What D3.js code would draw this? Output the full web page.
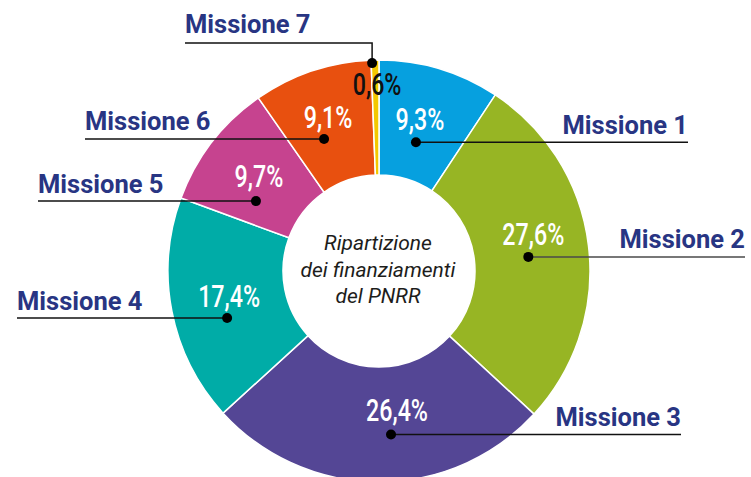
<!DOCTYPE html>
<html>
<head>
<meta charset="utf-8">
<script src="https://cdn.jsdelivr.net/npm/d3@7"></script>
<style>
  html, body { margin: 0; padding: 0; background: #fff; }
  svg { display: block; }
  .mission { font-family: Roboto, "Liberation Sans", sans-serif; font-weight: 700; font-size: 25.5px; fill: #283583; }
  .pct { font-family: Roboto, "Liberation Sans", sans-serif; font-size: 31px; font-weight: 500; }
  .center { font-family: Roboto, "Liberation Sans", sans-serif; font-style: italic; font-size: 21px; fill: #1d1d1b; }
</style>
</head>
<body>
<script>
// PNRR funding split by mission (percent of total)
const missions = ["Missione 1", "Missione 2", "Missione 3", "Missione 4", "Missione 5", "Missione 6", "Missione 7"];
const shares = [9.3, 27.6, 26.4, 17.4, 9.7, 9.1, 0.6];
const shareLabels = ["9,3%", "27,6%", "26,4%", "17,4%", "9,7%", "9,1%", "0,6%"];
const colors = ["#06a0df", "#97b524", "#544695", "#00aca7", "#c6438f", "#e8500f", "#f3c800"];
const centerLines = ["Ripartizione", "dei finanziamenti", "del PNRR"];

const W = 751, H = 477;
const cx = 379, cy = 271, rOuter = 211, rInner = 96;

// Label layout per mission: dot (polar, degrees clockwise from top), leader end x, side, value-label offset
const layout = [
  { angle: 16,    radius: 134, lineTo: 688, side: "right", dx: 4, dy: -12, lineColor: "#111" },
  { angle: 84.6,  radius: 150, lineTo: 745, side: "right", dx: 5, dy: -12, lineColor: "#4a4a4a" },
  { angle: 175.8, radius: 164, lineTo: 681, side: "right", dx: 6, dy: -14, lineColor: "#111" },
  { angle: 252.8, radius: 159, lineTo: 17,  side: "left",  dx: 2, dy: -11, lineColor: "#111" },
  { angle: 299.6, radius: 141.5, lineTo: 38, side: "left", dx: 3, dy: -14, lineColor: "#111" },
  { angle: 337.4, radius: 143, lineTo: 85,  side: "left",  dx: 4, dy: -11, lineColor: "#111" },
  { angle: -1.9,  radius: 208, lineTo: 185, side: "top",   dx: 5, dy: 32, lineColor: "#111" }
];

const svg = d3.select("body").append("svg").attr("width", W).attr("height", H);
const g = svg.append("g").attr("transform", `translate(${cx},${cy})`);

const data = missions.map((m, i) => ({ name: m, value: shares[i], label: shareLabels[i], color: colors[i], lay: layout[i] }));

const pie = d3.pie().sort(null).value(d => d.value).startAngle(0).endAngle(2 * Math.PI);
const arc = d3.arc().innerRadius(rInner).outerRadius(rOuter);
const arcs = pie(data);

g.selectAll("path.slice")
  .data(arcs)
  .join("path")
  .attr("class", "slice")
  .attr("d", arc)
  .attr("fill", d => d.data.color)
  .attr("stroke", "#fff")
  .attr("stroke-width", 1.5);

const polar = (deg, r) => {
  const a = deg * Math.PI / 180;
  return [r * Math.sin(a), -r * Math.cos(a)];
};

// Condensed value label: horizontally squeezed text centred on (x, y)
function valueLabel(x, y, text, fill) {
  svg.append("text").attr("class", "pct")
    .attr("transform", `translate(${x},${y}) scale(0.75,1)`)
    .attr("text-anchor", "middle")
    .attr("fill", fill)
    .text(text);
}

// Leader lines, dots and labels
arcs.forEach(d => {
  const L = d.data.lay;
  const [x, y] = polar(L.angle, L.radius);
  const px = cx + x, py = cy + y;
  if (L.side === "top") {
    const topY = 43;
    svg.append("polyline")
      .attr("points", `${L.lineTo},${topY} ${px},${topY} ${px},${py}`)
      .attr("fill", "none").attr("stroke", L.lineColor).attr("stroke-width", 1.5);
    svg.append("text").attr("class", "mission")
      .attr("x", L.lineTo).attr("y", topY - 10).text(d.data.name);
    valueLabel(px + L.dx, py + L.dy, d.data.label, "#111");
  } else {
    svg.append("line")
      .attr("x1", px).attr("y1", py).attr("x2", L.lineTo).attr("y2", py)
      .attr("stroke", L.lineColor).attr("stroke-width", 1.5);
    svg.append("text").attr("class", "mission")
      .attr("x", L.lineTo).attr("y", py - 8.5)
      .attr("text-anchor", L.side === "right" ? "end" : "start")
      .text(d.data.name);
    valueLabel(px + L.dx, py + L.dy, d.data.label, "#fff");
  }
  svg.append("circle").attr("cx", px).attr("cy", py).attr("r", 5).attr("fill", "#000");
});

// Centre caption
const ct = g.append("text").attr("class", "center").attr("text-anchor", "middle");
centerLines.forEach((t, i) => {
  ct.append("tspan").attr("x", -1).attr("y", -21 + i * 26.5).text(t);
});
</script>
</body>
</html>
